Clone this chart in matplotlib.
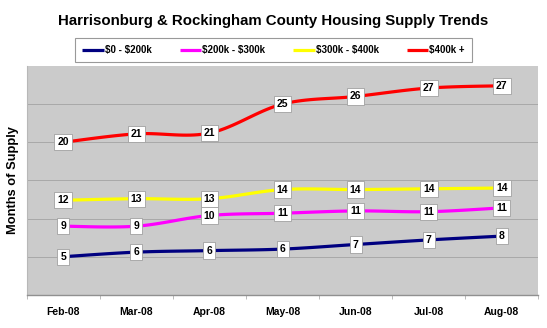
import numpy as np
import matplotlib
matplotlib.use("Agg")
import matplotlib.pyplot as plt

plt.rcParams['font.family'] = ['Liberation Sans', 'DejaVu Sans']

months = ["Feb-08", "Mar-08", "Apr-08", "May-08", "Jun-08", "Jul-08", "Aug-08"]
series_names = [r"\$0 - \$200k", r"\$200k - \$300k", r"\$300k - \$400k", r"\$400k +"]
low = [5.0, 5.6, 5.8, 6.0, 6.6, 7.2, 7.7]
mid = [9.0, 9.0, 10.4, 10.7, 11.0, 10.9, 11.4]
upper = [12.4, 12.6, 12.6, 13.8, 13.8, 13.9, 14.0]
high = [20.0, 21.1, 21.2, 25.0, 26.0, 27.1, 27.4]
colors = ["#000080", "#ff00ff", "#ffff00", "#ff0000"]


def smooth(x, y, n=20):
    # excel style smoothing: bezier with catmull-rom control points
    x = np.asarray(x, float)
    y = np.asarray(y, float)
    px = np.concatenate([[x[0]], x, [x[-1]]])
    py = np.concatenate([[y[0]], y, [y[-1]]])
    t = np.linspace(0, 1, n)[:, None]
    xs, ys = [], []
    for i in range(1, len(px) - 2):
        p0 = np.array([px[i], py[i]])
        p3 = np.array([px[i + 1], py[i + 1]])
        c1 = p0 + (p3 - np.array([px[i - 1], py[i - 1]])) / 6
        c2 = p3 - (np.array([px[i + 2], py[i + 2]]) - p0) / 6
        b = (1 - t) ** 3 * p0 + 3 * (1 - t) ** 2 * t * c1 + 3 * (1 - t) * t ** 2 * c2 + t ** 3 * p3
        xs.append(b[:, 0])
        ys.append(b[:, 1])
    return np.concatenate(xs), np.concatenate(ys)


fig = plt.figure(figsize=(5.47, 3.28), dpi=100)
ax = fig.add_axes([0.049, 0.101, 0.935, 0.698])
ax.set_facecolor("#cbcbcb")

x = np.arange(len(months))
for name, vals, c in zip(series_names, [low, mid, upper, high], colors):
    sx, sy = smooth(x, vals)
    ax.plot(sx, sy, color=c, lw=2.3, label=name, solid_capstyle='butt', zorder=3)
    for xi, v in zip(x, vals):
        ax.text(xi, v, "%d" % round(v), ha='center', va='center', fontsize=7.5,
                fontweight='bold', zorder=4,
                bbox=dict(boxstyle='square,pad=0.3', fc='white', ec='#a0a0a0', lw=0.6))

ax.set_xlim(-0.5, len(months) - 0.5)
ax.set_ylim(0, 30)
ax.set_yticks([5, 10, 15, 20, 25])
ax.set_yticklabels([])
ax.tick_params(axis='y', length=0)
ax.grid(axis='y', color='#a8a8a8', lw=0.7)
ax.set_axisbelow(True)

ax.set_xticks(x)
ax.set_xticklabels(months, fontsize=7.5, fontweight='bold')
ax.set_xticks(np.arange(-0.5, len(months)), minor=True)
ax.tick_params(axis='x', which='major', length=0, pad=9)
ax.tick_params(axis='x', which='minor', length=3, color='#b0b0b0')

for s in ["top", "right"]:
    ax.spines[s].set_visible(False)
ax.spines["left"].set_color("#b8b8b8")
ax.spines["bottom"].set_color("#909090")
ax.spines["bottom"].set_linewidth(1.0)

ax.set_ylabel("Months of Supply", fontsize=9.3, fontweight='bold')
ax.yaxis.set_label_coords(-0.015, 0.5)

fig.text(0.5, 0.935, "Harrisonburg & Rockingham County Housing Supply Trends",
         ha='center', va='center', fontsize=10.8, fontweight='bold')

leg = fig.legend(loc='center', bbox_to_anchor=(0.5, 0.847), ncol=4, frameon=True,
                 fancybox=False, handlelength=2.2, handletextpad=0.1,
                 columnspacing=2.9, borderpad=0.75, prop={'weight': 'bold', 'size': 7})
leg.get_frame().set_edgecolor('#808080')
leg.get_frame().set_linewidth(0.8)

fig.savefig("out.png", dpi=100)
